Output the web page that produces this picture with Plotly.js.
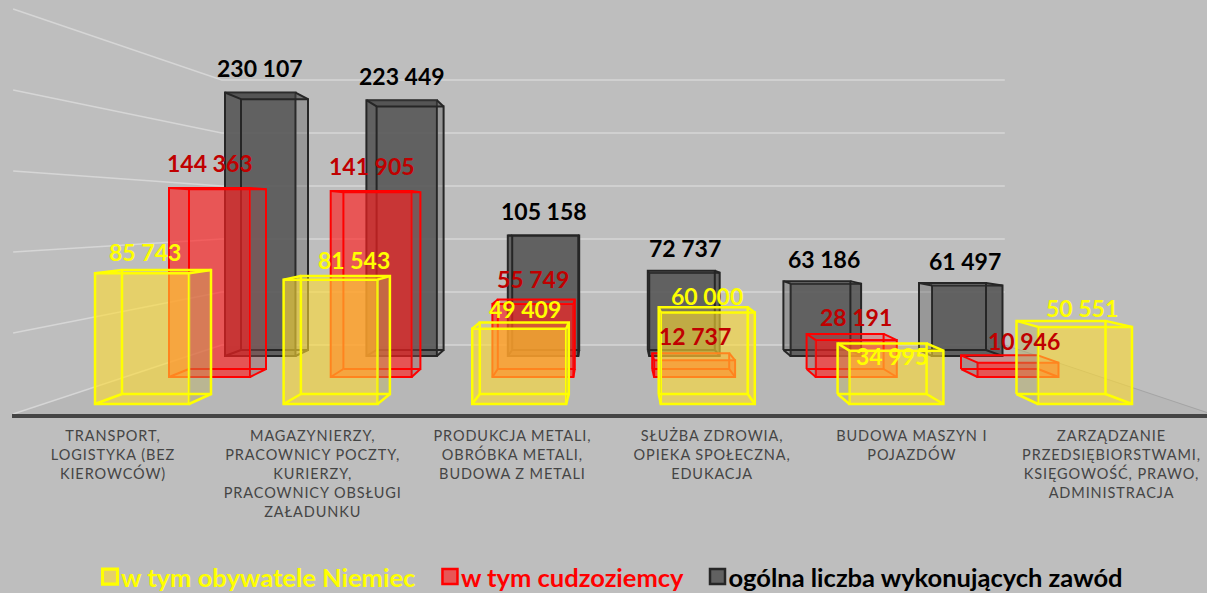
<!DOCTYPE html>
<html><head><meta charset="utf-8">
<script src="https://cdn.plot.ly/plotly-3.0.1.min.js"></script>
<style>html,body{margin:0;padding:0;background:#bebebe;overflow:hidden}#c{width:1207px;height:593px}.xtick text{letter-spacing:.9px}</style>
</head><body><div id="c"></div>
<script>
const categories=["TRANSPORT,<br>LOGISTYKA (BEZ<br>KIEROWCÓW)","MAGAZYNIERZY,<br>PRACOWNICY POCZTY,<br>KURIERZY,<br>PRACOWNICY OBSŁUGI<br>ZAŁADUNKU","PRODUKCJA METALI,<br>OBRÓBKA METALI,<br>BUDOWA Z METALI","SŁUŻBA ZDROWIA,<br>OPIEKA SPOŁECZNA,<br>EDUKACJA","BUDOWA MASZYN I<br>POJAZDÓW","ZARZĄDZANIE<br>PRZEDSIĘBIORSTWAMI,<br>KSIĘGOWOŚĆ, PRAWO,<br>ADMINISTRACJA"];
const obywatele=[85743,81543,49409,60000,34995,50551];
const cudzoziemcy=[144363,141905,55749,12737,28191,10946];
const ogolem=[230107,223449,105158,72737,63186,61497];
const gridValues=[0,50000,100000,150000,200000,250000];

// Perspective planes of the 3D look: each depth is a linear scale.
const W=1207,H=593,L=12,B=414;
const plane=(c0,step,w,base,scale)=>({c0,step,w,base,scale});
const wallF=plane(113,199.7,199.7,414,1.62e-3), wallB=plane(287,130.5,130.5,345,1.06e-3);
const depth={
 k:[plane(260.25,141.4,70.5,356,1.145e-3),plane(274.5,135.6,67,350,1.09e-3)],
 r:[plane(209.5,161.7,81,377,1.31e-3),plane(227.5,154.4,77,369,1.245e-3)],
 y:[plane(142,188.6,94,404,1.525e-3),plane(166.5,178.9,89,394,1.446e-3)]
};
const px=(p,i,side,v)=>[p.c0+p.step*i+side*p.w/2,p.base-p.scale*v];
const toData=(p,q)=>[(q[0]-p.c0)/p.step,(p.base-q[1])/p.scale];
const xRange=p=>[(L-p.c0)/p.step,(W-p.c0)/p.step];
const yRange=p=>[(p.base-B)/p.scale,p.base/p.scale];

const traces=[],annotations=[];
const layout={
 width:W,height:H,margin:{l:L,r:0,t:0,b:H-B,pad:0,autoexpand:false},
 paper_bgcolor:'#bebebe',plot_bgcolor:'rgba(0,0,0,0)',
 font:{family:'Lato, sans-serif'},showlegend:true,hovermode:'closest',
 legend:{orientation:'h',x:(96-L)/(W-L),xanchor:'left',y:(B-H)/B,yanchor:'bottom',traceorder:'reversed',
   font:{family:'Lato',size:25.5,weight:700},indentation:-15,bgcolor:'rgba(0,0,0,0)',itemclick:false,itemdoubleclick:false},
 xaxis:{range:xRange(wallF),tickmode:'array',tickvals:categories.map((_,i)=>i),ticktext:categories,
   showgrid:false,zeroline:false,showline:true,linecolor:'#454545',linewidth:4,
   ticks:'outside',ticklen:6,tickcolor:'rgba(0,0,0,0)',tickfont:{family:'Lato',size:14.5,color:'#454545'},tickangle:0,fixedrange:true},
 yaxis:{range:yRange(wallF),visible:false,fixedrange:true},
 annotations
};

// floor + wall grid (xy)
const a=(q)=>toData(wallF,q);
const n=categories.length;
const fl=[px(wallF,-.5,0,0),px(wallF,n-.5,0,0),px(wallB,n-.5,0,0),px(wallB,-.5,0,0)].map(a);
traces.push({type:'scatter',xaxis:'x',yaxis:'y',x:[...fl.map(d=>d[0]),fl[0][0]],y:[...fl.map(d=>d[1]),fl[0][1]],
  mode:'lines',line:{width:0},fill:'toself',fillcolor:'#b7b7b7',hoverinfo:'skip',showlegend:false});
const gx=[],gy=[];
gridValues.forEach(v=>{[px(wallF,-.5,0,v),px(wallB,-.5,0,v),px(wallB,n-.5,0,v)].map(a).forEach(d=>{gx.push(d[0]);gy.push(d[1]);});gx.push(null);gy.push(null);});
traces.push({type:'scatter',xaxis:'x',yaxis:'y',x:gx,y:gy,mode:'lines',line:{width:1.5,color:'#d6d6d6'},hoverinfo:'skip',showlegend:false});
// floor right edge
const re=[px(wallB,n-.5,0,0),px(wallF,n-.5,0,0)].map(a);
traces.push({type:'scatter',xaxis:'x',yaxis:'y',x:re.map(d=>d[0]),y:re.map(d=>d[1]),mode:'lines',line:{width:1,color:'#a4a4a4'},hoverinfo:'skip',showlegend:false});

function series(idx,key,name,values,st,shiftX,shiftY){
 const [F,Bk]=depth[key], xn='x'+idx, yn='y'+idx;
 layout['xaxis'+idx]={range:xRange(F),overlaying:'x',visible:false,fixedrange:true};
 layout['yaxis'+idx]={range:yRange(F),overlaying:'y',visible:false,fixedrange:true};
 const poly=(arr,pts)=>{pts.map(q=>toData(F,q)).forEach(d=>{arr.x.push(d[0]);arr.y.push(d[1]);});arr.x.push(null);arr.y.push(null);};
 const side={x:[],y:[]},top={x:[],y:[]},edge={x:[],y:[]};
 values.forEach((v,i)=>{
  const f=(s,h)=>px(F,i,s,h), b=(s,h)=>px(Bk,i,s,h);
  if(b(1,0)[0]>f(1,0)[0]) poly(side,[f(1,0),b(1,0),b(1,v),f(1,v),f(1,0)]);
  if(b(-1,0)[0]<f(-1,0)[0]) poly(side,[f(-1,0),b(-1,0),b(-1,v),f(-1,v),f(-1,0)]);
  poly(top,[f(-1,v),f(1,v),b(1,v),b(-1,v),f(-1,v)]);
  poly(edge,[b(-1,0),b(1,0),b(1,v),b(-1,v),b(-1,0)]);
  [[-1,0],[1,0],[-1,v],[1,v]].forEach(c=>poly(edge,[f(c[0],c[1]),b(c[0],c[1])]));
 });
 traces.push({type:'scatter',xaxis:xn,yaxis:yn,x:side.x,y:side.y,mode:'lines',line:{width:0},fill:'toself',fillcolor:st.side,hoverinfo:'skip',showlegend:false});
 traces.push({type:'scatter',xaxis:xn,yaxis:yn,x:top.x,y:top.y,mode:'lines',line:{width:0},fill:'toself',fillcolor:st.top,hoverinfo:'skip',showlegend:false});
 traces.push({type:'bar',xaxis:xn,yaxis:yn,x:values.map((_,i)=>i),y:values,width:F.w/F.step,
   name:'<span style="color:'+st.text+'">'+name+'</span>'+st.gap,hovertext:categories,
   marker:{color:st.face,line:{color:st.edge,width:st.lw}}});
 traces.push({type:'scatter',xaxis:xn,yaxis:yn,x:edge.x,y:edge.y,mode:'lines',line:{width:st.lw,color:st.edge},hoverinfo:'skip',showlegend:false});
 values.forEach((v,i)=>annotations.push({xref:xn,yref:yn,x:i,y:v,xanchor:'center',yanchor:'middle',showarrow:false,
   xshift:shiftX[i],yshift:shiftY[i],text:String(v).replace(/\B(?=(\d{3})+$)/g,' '),
   font:{family:'Lato',size:23,weight:700,color:st.label}}));
}
const sp='&nbsp;&nbsp;&#8201;';
series(2,'k','ogólna liczba wykonujących zawód',ogolem,
 {face:'rgba(86,86,86,.9)',side:'rgba(70,70,70,.32)',top:'rgba(70,70,70,.45)',edge:'#262626',lw:2,text:'#000',label:'#000',gap:''},
 [0,0,1,1,-2,-2],[24.5,24,24.5,24.5,24.5,24.5]);
series(3,'r','w tym cudzoziemcy',cudzoziemcy,
 {face:'rgba(255,30,30,.65)',side:'rgba(150,80,80,.4)',top:'rgba(255,30,30,.25)',edge:'#ff0000',lw:2,text:'#ff0000',label:'#c00000',gap:sp},
 [0,1,0,0,0,6],[25,25,25,24,23,22]);
series(4,'y','w tym obywatele Niemiec',obywatele,
 {face:'rgba(255,220,50,.6)',side:'rgba(190,180,90,.4)',top:'rgba(255,220,50,.2)',edge:'#ffff00',lw:2.5,text:'#ffff00',label:'#ffff00',gap:sp},
 [3,23,6,-1,-4,-3],[21,20,20,16.5,-5.4,19]);

Plotly.newPlot('c',traces,layout,{displayModeBar:false}).then(gd=>{
 // Legend fine-tuning: larger swatches next to the text, and down towards the reference's baseline.
 gd.querySelectorAll('.legend .legendpoints path').forEach(p=>{
   p.setAttribute('transform',(p.getAttribute('transform')||'')+' translate(9,0) scale(1.25)');
 });
 const lg=gd.querySelector('.legend');
 const m=/translate\(([-\d.]+)[ ,]+([-\d.]+)\)/.exec(lg.getAttribute('transform'));
 if(m){
   const h=lg.getBBox().height;
   lg.setAttribute('transform','translate('+m[1]+','+(577-h/2)+')');
 }
});
</script></body></html>
